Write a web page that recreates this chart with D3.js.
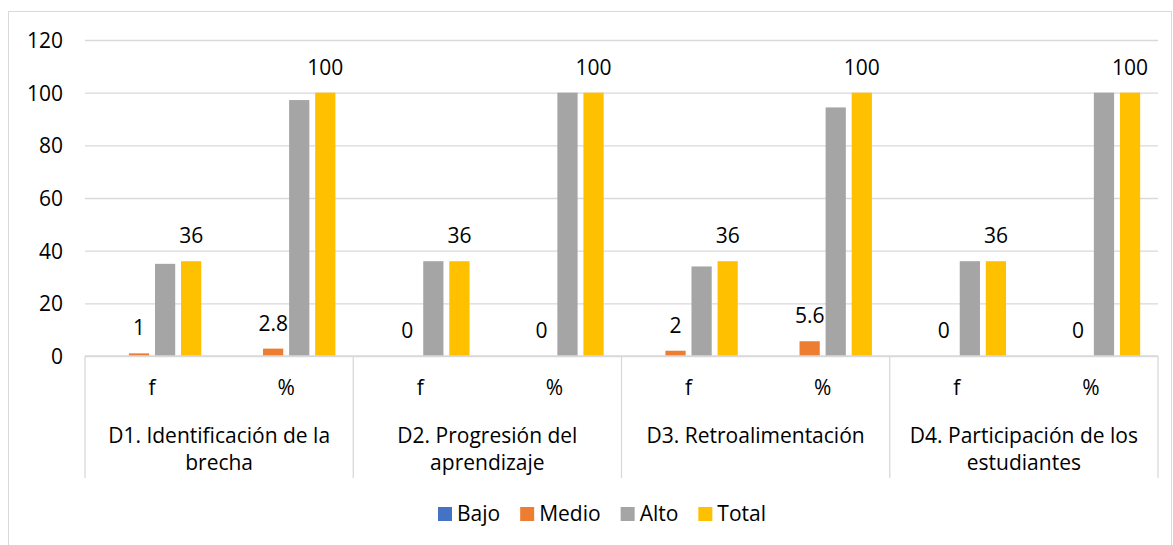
<!DOCTYPE html>
<html>
<head>
<meta charset="utf-8">
<script src="https://cdn.jsdelivr.net/npm/d3@7"></script>
<style>
  html, body { margin: 0; padding: 0; background: #fff; }
  svg { display: block; }
  text { font-family: "Open Sans", "Noto Sans", sans-serif; fill: #000; }
</style>
</head>
<body>
<svg id="chart" width="1173" height="545"></svg>
<script>
// ---- data ----
const groups = ["D1. Identificación de la|brecha", "D2. Progresión del|aprendizaje", "D3. Retroalimentación", "D4. Participación de los|estudiantes"];
const subs = ["f", "%"];
const series = ["Bajo", "Medio", "Alto", "Total"];
const colors = ["#4472C4", "#ED7D31", "#A5A5A5", "#FFC000"];
const bajo  = [0, 0, 0, 0, 0, 0, 0, 0];
const medio = [1, 2.8, 0, 0, 2, 5.6, 0, 0];
const alto  = [35, 97.2, 36, 100, 34, 94.4, 36, 100];
const total = [36, 100, 36, 100, 36, 100, 36, 100];
const labelled = ["Medio", "Total"];
const yTicks = [0, 20, 40, 60, 80, 100, 120];

const values = { Bajo: bajo, Medio: medio, Alto: alto, Total: total };
const cats = [];
groups.forEach((g, gi) => subs.forEach((s, si) => cats.push({ key: gi + "-" + si, group: gi, sub: s })));

const svg = d3.select("#chart");
const L = 85, R = 1158, T = 40, B = 356;
const fontSize = 21;

// outer frame
svg.append("rect").attr("x", 8.5).attr("y", 11.5).attr("width", 1163).attr("height", 560)
  .attr("fill", "none").attr("stroke", "#d9d9d9").attr("stroke-width", 1);

const y = d3.scaleLinear().domain([0, 120]).range([B, T]);
const x0 = d3.scaleBand().domain(cats.map(c => c.key)).range([L, R]).paddingInner(0).paddingOuter(0);
const bw = x0.bandwidth();
const x1 = d3.scaleBand().domain(series).range([bw * 0.133, bw * 0.867]).paddingInner(0.224).paddingOuter(0);

// gridlines
const gridAxis = d3.axisLeft(y).tickValues(yTicks).tickSize(-(R - L)).tickFormat("");
const gg = svg.append("g").attr("transform", `translate(${L},0)`).call(gridAxis);
gg.select(".domain").remove();
gg.selectAll("line").attr("stroke", "#d9d9d9").attr("stroke-width", 1.3);

// y labels
const yAxis = d3.axisLeft(y).tickValues(yTicks).tickSize(0).tickPadding(22);
const ya = svg.append("g").attr("transform", `translate(${L},0)`).call(yAxis);
ya.select(".domain").remove();
ya.selectAll("text").attr("font-size", fontSize).attr("font-family", "Open Sans").attr("fill", "#000").attr("dy", "0.36em");

// bars
const catG = svg.append("g").selectAll("g").data(cats).join("g")
  .attr("transform", c => `translate(${x0(c.key)},0)`);
series.forEach((s, si) => {
  catG.append("rect")
    .attr("x", x1(s))
    .attr("width", x1.bandwidth())
    .attr("y", (c, i) => y(values[s][i]))
    .attr("height", (c, i) => B - y(values[s][i]))
    .attr("fill", colors[si]);
});
// data labels
labelled.forEach(s => {
  catG.append("text")
    .attr("x", x1(s) + x1.bandwidth() / 2)
    .attr("y", (c, i) => y(values[s][i]) - 18)
    .attr("text-anchor", "middle")
    .attr("font-size", fontSize)
    .text((c, i) => values[s][i]);
});

// category axis
const axisColor = "#d9d9d9";
svg.append("line").attr("x1", L).attr("x2", R).attr("y1", B).attr("y2", B)
  .attr("stroke", axisColor).attr("stroke-width", 1.3);
const sepXs = [L];
groups.forEach((g, gi) => sepXs.push(x0(gi + "-1") + bw));
svg.append("g").selectAll("line").data(sepXs).join("line")
  .attr("x1", d => d).attr("x2", d => d).attr("y1", B).attr("y2", 478)
  .attr("stroke", axisColor).attr("stroke-width", 1.3);

svg.append("g").selectAll("text").data(cats).join("text")
  .attr("x", c => x0(c.key) + bw / 2)
  .attr("y", 395)
  .attr("text-anchor", "middle")
  .attr("font-size", fontSize)
  .text(c => c.sub);

groups.forEach((g, gi) => {
  const cx = (x0(gi + "-0") + x0(gi + "-1") + bw) / 2;
  const lines = g.split("|");
  const t = svg.append("text").attr("text-anchor", "middle").attr("font-size", fontSize);
  lines.forEach((ln, li) => {
    t.append("tspan").attr("x", cx).attr("y", 443 + li * 27).text(ln);
  });
});

// legend (laid out from measured text widths, centered)
const sq = 14, gapText = 5, gapItem = 20, legendCenter = 602;
const lg = svg.append("g");
const items = lg.selectAll("g").data(series).join("g");
items.append("rect").attr("width", sq).attr("height", sq).attr("y", 507).attr("fill", (d, i) => colors[i]);
items.append("text").attr("x", sq + gapText).attr("y", 521).attr("font-size", fontSize).text(d => d);
const widths = [];
items.each(function () { widths.push(sq + gapText + d3.select(this).select("text").node().getComputedTextLength()); });
const totalW = d3.sum(widths) + gapItem * (widths.length - 1);
let xpos = legendCenter - totalW / 2;
items.attr("transform", (d, i) => { const t = `translate(${xpos},0)`; xpos += widths[i] + gapItem; return t; });
</script>
</body>
</html>
